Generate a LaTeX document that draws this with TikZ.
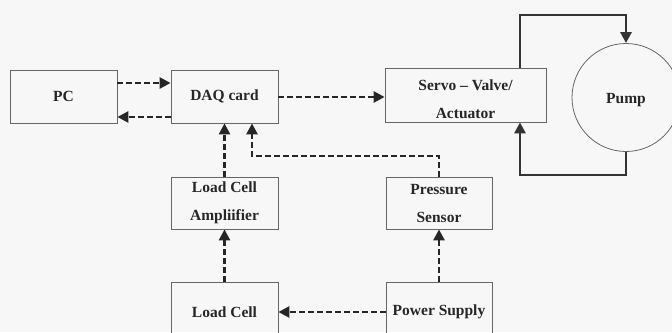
\documentclass[tikz,border=0pt]{standalone}
\usepackage{fontspec}
\setmainfont{Liberation Serif}
\usetikzlibrary{arrows.meta}
\begin{document}
\begin{tikzpicture}[x=1pt,y=-1pt,
  txt/.style={font=\bfseries\fontsize{15.5}{28}\selectfont,text=black!85},
  box/.style={txt,draw=black!60,line width=0.8pt,inner sep=0pt,align=center},
  sig/.style={line width=2.6pt,dash pattern=on 6pt off 3pt,black!85,
    -{Triangle[length=11pt,width=11pt]}},
  flow/.style={line width=2.8pt,black!80,-{Triangle[length=11pt,width=11pt]}}]
\fill[black!3] (0,0) rectangle (672,332);
\clip (0,0) rectangle (672,332);
\node[box,minimum width=107pt,minimum height=53pt] (pc) at (63.5,96.5) {PC};
\node[box,minimum width=107pt,minimum height=53pt] (daq) at (224.5,96.5) {DAQ card};
\node[box,minimum width=161pt,minimum height=54pt] (sv) at (465.5,95) {};
\node[txt,align=center] (svt) at (sv.center) [yshift=-4pt] {Servo -- Valve/\\Actuator};
\node[txt,circle,draw=black!60,line width=0.8pt,minimum size=108pt,inner sep=0pt] (pump) at (626,97.5) {};
\node[txt] (pumpt) at ([yshift=-3pt]pump.center) {Pump};
\node[box,minimum width=107pt,minimum height=52pt] (lca) at (224.5,203) {Load Cell\\Ampliifier};
\node[box,minimum width=106pt,minimum height=52pt] (ps) at (439,203) {Pressure\\Sensor};
\node[box,minimum width=107pt,minimum height=60pt] (lc) at (224.5,312) {Load Cell};
\node[box,minimum width=106pt,minimum height=60pt] (psu) at (439,312) {Power Supply};
% signal lines
\draw[sig] (pc.east|-0,83) -- (daq.west|-0,83);
\draw[sig] (daq.west|-0,117) -- (pc.east|-0,117);
\draw[sig] (daq.east|-0,97) -- (sv.west|-0,97);
\draw[sig] (lca.north) -- (lca.north|-daq.south);
\draw[sig] (ps.north) -- (ps.north|-0,156) -| ([xshift=27.5pt]daq.south);
\draw[sig] (lc.north) -- (lca.south);
\draw[sig] (psu.north) -- (ps.south);
\draw[sig] (psu.west|-0,312) -- (lc.east|-0,312);
% hydraulic loop
\draw[flow] ([xshift=54.5pt]sv.north) |- (pump.north|-0,15) -- (pump.north);
\draw[flow] (pump.south) -- (pump.south|-0,175) -| ([xshift=54.5pt]sv.south);
\end{tikzpicture}
\end{document}
